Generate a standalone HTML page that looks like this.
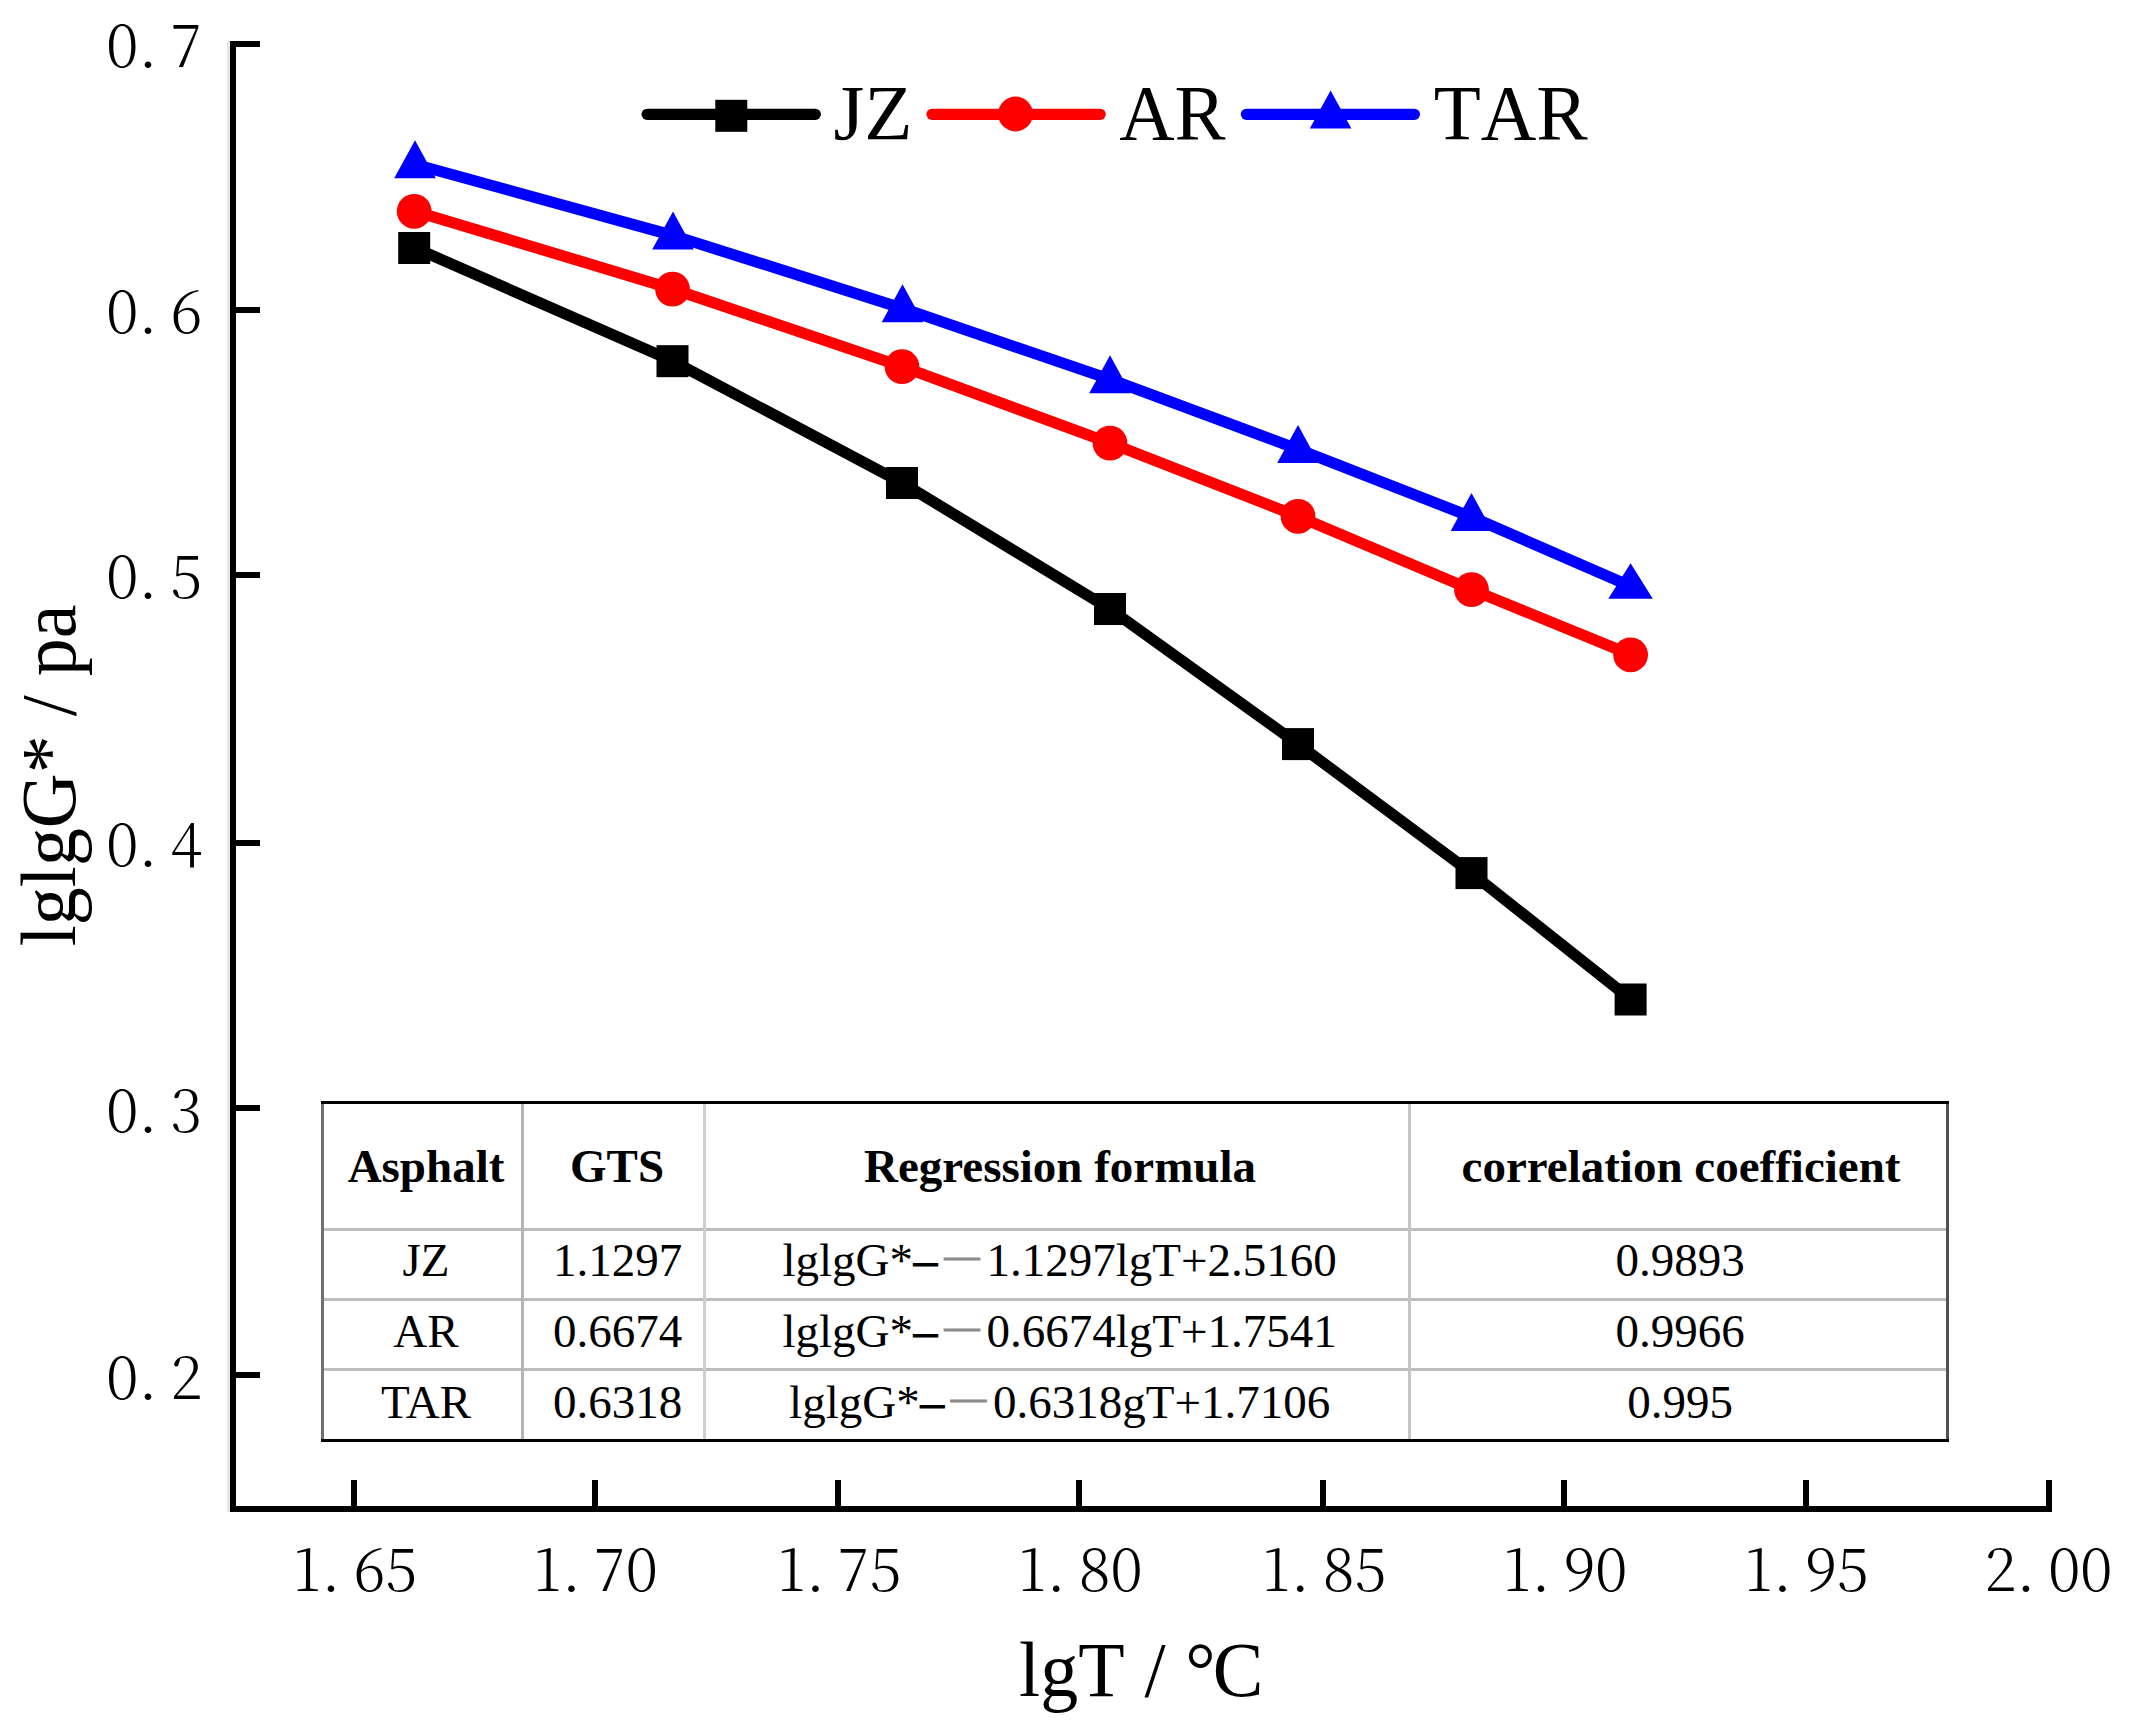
<!DOCTYPE html>
<html lang="en"><head><meta charset="utf-8"><title>lglgG* vs lgT</title>
<style>
html,body{margin:0;padding:0;background:#fff;}
body{width:2129px;height:1734px;overflow:hidden;}
svg{display:block;}
text{font-family:"Liberation Serif", "Noto Serif CJK SC", serif;fill:#000;}
.tick{font-size:58.5px;font-family:"Noto Serif CJK SC", "Liberation Serif", serif;font-weight:300;}
.ax{font-size:78px;}
.lg{font-size:79px;font-kerning:none;}
.tb{font-size:47px;}
.th{font-size:47px;font-weight:bold;}
.nd{stroke:#000;stroke-width:1.2px;}
.fw{fill:#8c8c8c;stroke:#8c8c8c;stroke-width:1px;}
</style></head><body>
<svg width="2129" height="1734" viewBox="0 0 2129 1734">
<rect x="0" y="0" width="2129" height="1734" fill="#fff"/>
<g fill="#000" shape-rendering="crispEdges">
<rect x="227" y="41" width="3" height="1471" fill="#e6e6e6"/>
<rect x="230" y="41" width="6" height="1471"/>
<rect x="230" y="1506" width="1822" height="6"/>
<rect x="236" y="41.0" width="24" height="6"/>
<rect x="236" y="307.0" width="24" height="6"/>
<rect x="236" y="572.0" width="24" height="6"/>
<rect x="236" y="839.5" width="24" height="6"/>
<rect x="236" y="1105.4" width="24" height="6"/>
<rect x="236" y="1372.2" width="24" height="6"/>
<rect x="351.0" y="1480" width="6" height="26"/>
<rect x="591.6" y="1480" width="6" height="26"/>
<rect x="835.4" y="1480" width="6" height="26"/>
<rect x="1076.3" y="1480" width="6" height="26"/>
<rect x="1320.3" y="1480" width="6" height="26"/>
<rect x="1561.0" y="1480" width="6" height="26"/>
<rect x="1802.5" y="1480" width="6" height="26"/>
<rect x="2046.0" y="1480" width="6" height="26"/>
</g>
<text class="tick" x="106.2 138.5 170.2" y="67.4">0.7</text>
<text class="tick" x="106.2 138.5 170.2" y="333.4">0.6</text>
<text class="tick" x="106.2 138.5 170.2" y="598.4">0.5</text>
<text class="tick" x="106.2 138.5 170.2" y="865.9">0.4</text>
<text class="tick" x="106.2 138.5 170.2" y="1131.8">0.3</text>
<text class="tick" x="106.2 138.5 170.2" y="1398.6">0.2</text>
<text class="tick" x="293.0 321.5 353.2 385.2" y="1591.4">1.65</text>
<text class="tick" x="533.6 562.1 593.8 625.8" y="1591.4">1.70</text>
<text class="tick" x="777.4 805.9 837.6 869.6" y="1591.4">1.75</text>
<text class="tick" x="1018.3 1046.8 1078.5 1110.5" y="1591.4">1.80</text>
<text class="tick" x="1262.3 1290.8 1322.5 1354.5" y="1591.4">1.85</text>
<text class="tick" x="1503.0 1531.5 1563.2 1595.2" y="1591.4">1.90</text>
<text class="tick" x="1744.5 1773.0 1804.7 1836.7" y="1591.4">1.95</text>
<text class="tick" x="1984.2 2016.5 2048.2 2080.2" y="1591.4">2.00</text>
<text class="ax" text-anchor="middle" transform="translate(74.6,775.4) rotate(-90) scale(0.974,1)">lglgG* / pa</text>
<text class="ax" text-anchor="middle" transform="translate(1141.2,1696.2) scale(0.974,1)">lgT <tspan dx="2.5">/</tspan> <tspan dx="0.5">°</tspan><tspan dx="-3">C</tspan></text>
<polyline points="415.0,248.0 673.0,361.2 902.5,483.0 1110.0,609.0 1298.0,744.1 1471.5,873.1 1631.0,999.5" fill="none" stroke="#000" stroke-width="11.2" stroke-linejoin="round" stroke-linecap="butt"/>
<polyline points="415.0,211.3 673.0,289.1 902.5,366.7 1110.0,443.1 1298.0,516.3 1471.5,589.6 1631.0,654.8" fill="none" stroke="#f00" stroke-width="11.2" stroke-linejoin="round" stroke-linecap="butt"/>
<polyline points="415.0,164.3 673.0,235.5 902.5,308.3 1110.0,379.3 1298.0,449.2 1471.5,517.0 1631.0,586.3" fill="none" stroke="#00f" stroke-width="11.2" stroke-linejoin="round" stroke-linecap="butt"/>
<rect x="398.2" y="232.0" width="32" height="32" fill="#000"/>
<rect x="656.5" y="345.2" width="32" height="32" fill="#000"/>
<rect x="886.0" y="467.0" width="32" height="32" fill="#000"/>
<rect x="1094.0" y="593.0" width="32" height="32" fill="#000"/>
<rect x="1282.0" y="728.1" width="32" height="32" fill="#000"/>
<rect x="1455.5" y="857.1" width="32" height="32" fill="#000"/>
<rect x="1614.6" y="983.5" width="32" height="32" fill="#000"/>
<circle cx="414.2" cy="211.3" r="17.4" fill="#f00"/>
<circle cx="672.5" cy="289.1" r="17.4" fill="#f00"/>
<circle cx="902.0" cy="366.7" r="17.4" fill="#f00"/>
<circle cx="1110.0" cy="443.1" r="17.4" fill="#f00"/>
<circle cx="1298.0" cy="516.3" r="17.4" fill="#f00"/>
<circle cx="1471.5" cy="589.6" r="17.4" fill="#f00"/>
<circle cx="1630.6" cy="654.8" r="17.4" fill="#f00"/>
<polygon points="415.0,140.2 394.2,178.2 435.8,178.2" fill="#00f"/>
<polygon points="673.0,211.4 652.2,249.4 693.8,249.4" fill="#00f"/>
<polygon points="902.5,284.2 881.7,322.2 923.3,322.2" fill="#00f"/>
<polygon points="1110.0,355.2 1089.2,393.2 1130.8,393.2" fill="#00f"/>
<polygon points="1298.0,425.1 1277.2,463.1 1318.8,463.1" fill="#00f"/>
<polygon points="1471.5,492.9 1450.7,530.9 1492.3,530.9" fill="#00f"/>
<polygon points="1630.6,563.3 1608.3,598.8 1652.8,598.8" fill="#00f"/>
<line x1="647.1" y1="114.3" x2="815.3" y2="114.3" stroke="#000" stroke-width="11.2" stroke-linecap="round"/>
<rect x="715.3" y="99.8" width="32" height="32" fill="#000"/>
<line x1="932.0" y1="114.3" x2="1100.2" y2="114.3" stroke="#f00" stroke-width="11.2" stroke-linecap="round"/>
<circle cx="1015.5" cy="114.0" r="17.4" fill="#f00"/>
<line x1="1246.4" y1="114.3" x2="1414.4" y2="114.3" stroke="#00f" stroke-width="11.2" stroke-linecap="round"/>
<polygon points="1330.6,90.6 1309.8,128.6 1351.4,128.6" fill="#00f"/>
<text class="lg" x="833.5" y="139">JZ</text>
<text class="lg" transform="translate(1119.3,139) scale(0.969,1)">AR</text>
<text class="lg" transform="translate(1433.7,139) scale(0.975,1)">TAR</text>
<g shape-rendering="crispEdges">
<rect x="322" y="1101" width="1627" height="340" fill="#fff"/>
<rect x="324" y="1227.5" width="1622" height="3" fill="#bdbdbd"/>
<rect x="324" y="1297.5" width="1622" height="3" fill="#bdbdbd"/>
<rect x="324" y="1368.1" width="1622" height="3" fill="#bdbdbd"/>
<rect x="521" y="1103" width="3" height="336" fill="#b4b4b4"/>
<rect x="703" y="1103" width="3" height="336" fill="#cfcfcf"/>
<rect x="1408" y="1103" width="3" height="336" fill="#c4c4c4"/>
<rect x="321" y="1101" width="3" height="340" fill="#707070"/>
<rect x="1946" y="1101" width="3" height="340" fill="#505050"/>
<rect x="321" y="1101" width="1628" height="3" fill="#000"/>
<rect x="321" y="1438.5" width="1628" height="3" fill="#000"/>
</g>
<text class="th" text-anchor="middle" x="426.0" y="1182.0">Asphalt</text>
<text class="th" text-anchor="middle" x="617.0" y="1182.0">GTS</text>
<text class="th" text-anchor="middle" x="1060.0" y="1182.0">Regression formula</text>
<text class="th" text-anchor="middle" x="1681.0" y="1182.0">correlation coefficient</text>
<text class="tb" text-anchor="middle" x="426.0" y="1276.3">JZ</text>
<text class="tb" text-anchor="middle" x="617.5" y="1276.3">1.1297</text>
<text class="tb" text-anchor="middle" x="1680.0" y="1276.3">0.9893</text>
<text class="tb" y="1276.3"><tspan x="782.5">lglgG*</tspan><tspan x="913.8" class="nd">–</tspan><tspan x="938.5" class="fw">－</tspan><tspan x="986.4">1.1297lgT+2.5160</tspan></text>
<text class="tb" text-anchor="middle" x="426.0" y="1347.0">AR</text>
<text class="tb" text-anchor="middle" x="617.5" y="1347.0">0.6674</text>
<text class="tb" text-anchor="middle" x="1680.0" y="1347.0">0.9966</text>
<text class="tb" y="1347.0"><tspan x="782.5">lglgG*</tspan><tspan x="913.8" class="nd">–</tspan><tspan x="938.5" class="fw">－</tspan><tspan x="986.4">0.6674lgT+1.7541</tspan></text>
<text class="tb" text-anchor="middle" x="426.0" y="1418.0">TAR</text>
<text class="tb" text-anchor="middle" x="617.5" y="1418.0">0.6318</text>
<text class="tb" text-anchor="middle" x="1680.0" y="1418.0">0.995</text>
<text class="tb" y="1418.0"><tspan x="789.1">lglgG*</tspan><tspan x="920.4" class="nd">–</tspan><tspan x="945.1" class="fw">－</tspan><tspan x="993.0">0.6318gT+1.7106</tspan></text>
</svg></body></html>
